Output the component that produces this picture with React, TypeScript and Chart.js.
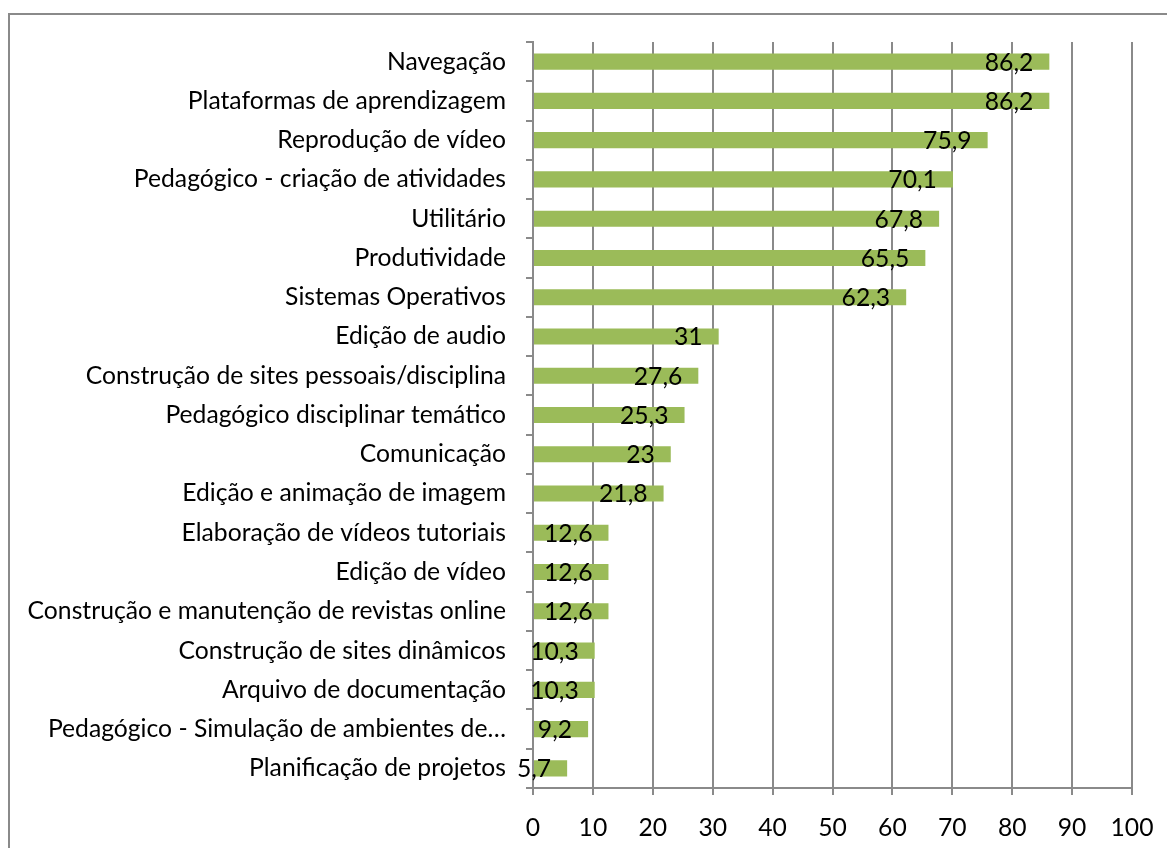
import React, { useEffect, useRef } from "react";
import { Chart, registerables } from "chart.js";

Chart.register(...registerables);

const categories: string[] = [
  "Navegação",
  "Plataformas de aprendizagem",
  "Reprodução de vídeo",
  "Pedagógico - criação de atividades",
  "Utilitário",
  "Produtividade",
  "Sistemas Operativos",
  "Edição de audio",
  "Construção de sites pessoais/disciplina",
  "Pedagógico disciplinar temático",
  "Comunicação",
  "Edição e animação de imagem",
  "Elaboração de vídeos tutoriais",
  "Edição de vídeo",
  "Construção e manutenção de revistas online",
  "Construção de sites dinâmicos",
  "Arquivo de documentação",
  "Pedagógico - Simulação de ambientes de…",
  "Planificação de projetos",
];

const values: number[] = [
  86.2, 86.2, 75.9, 70.1, 67.8, 65.5, 62.3, 31, 27.6, 25.3, 23, 21.8, 12.6, 12.6, 12.6, 10.3, 10.3, 9.2, 5.7,
];

const xMin = 0;
const xMax = 100;
const xStep = 10;

const FONT_FAMILY = "Lato, 'Open Sans', sans-serif";
const FONT_SIZE = 24.7;
const GRID = "#8a8a8a";

const labelPlugin = {
  id: "barLabels",
  afterDatasetsDraw(chart: any) {
    const ctx = chart.ctx;
    const meta = chart.getDatasetMeta(0);
    ctx.save();
    ctx.font = `${FONT_SIZE}px ${FONT_FAMILY}`;
    ctx.fillStyle = "#000";
    ctx.textAlign = "right";
    ctx.textBaseline = "middle";
    meta.data.forEach((el: any, i: number) => {
      const txt = String(values[i]).replace(".", ",");
      ctx.fillText(txt, el.x - 16, el.y + 1);
    });
    ctx.restore();
  },
};

export default function App() {
  const ref = useRef<HTMLCanvasElement | null>(null);
  useEffect(() => {
    if (!ref.current) return;
    const chart = new Chart(ref.current, {
      type: "bar",
      data: {
        labels: categories,
        datasets: [
          {
            data: values,
            backgroundColor: "#9BBB59",
            borderWidth: 0,
            barPercentage: 1,
            categoryPercentage: 0.41,
          },
        ],
      },
      options: {
        indexAxis: "y",
        responsive: false,
        animation: false,
        layout: { padding: { top: 42, right: 35, left: 0, bottom: 0 } },
        plugins: { legend: { display: false }, tooltip: { enabled: false } },
        scales: {
          x: {
            min: xMin,
            max: xMax,
            ticks: {
              stepSize: xStep,
              color: "#000",
              padding: 18,
              font: { family: FONT_FAMILY, size: FONT_SIZE },
            },
            grid: { color: GRID, lineWidth: 2, tickLength: 7 },
            border: { color: GRID, width: 2 },
            afterFit: (s: any) => {
              s.height = 60;
              s.paddingLeft = 0;
              s.paddingRight = 0;
            },
          },
          y: {
            ticks: {
              color: "#000",
              padding: 20,
              autoSkip: false,
              font: { family: FONT_FAMILY, size: FONT_SIZE },
            },
            grid: { drawOnChartArea: false, color: GRID, lineWidth: 2, tickLength: 7 },
            border: { color: GRID, width: 2 },
            afterFit: (s: any) => {
              s.width = 533;
              s.paddingTop = 0;
              s.paddingBottom = 0;
            },
          },
        },
      },
      plugins: [labelPlugin],
    });
    return () => chart.destroy();
  }, []);
  return (
    <div style={{ position: "absolute", left: 0, top: 0, width: 1167, height: 848, overflow: "hidden", background: "#fff" }}>
      <div
        style={{
          position: "absolute",
          left: 8,
          top: 13,
          width: 1200,
          height: 900,
          borderLeft: "2px solid #8a8a8a",
          borderTop: "2px solid #8a8a8a",
        }}
      />
      <canvas ref={ref} width={1167} height={848} style={{ position: "absolute", left: 0, top: 0 }} />
    </div>
  );
}
